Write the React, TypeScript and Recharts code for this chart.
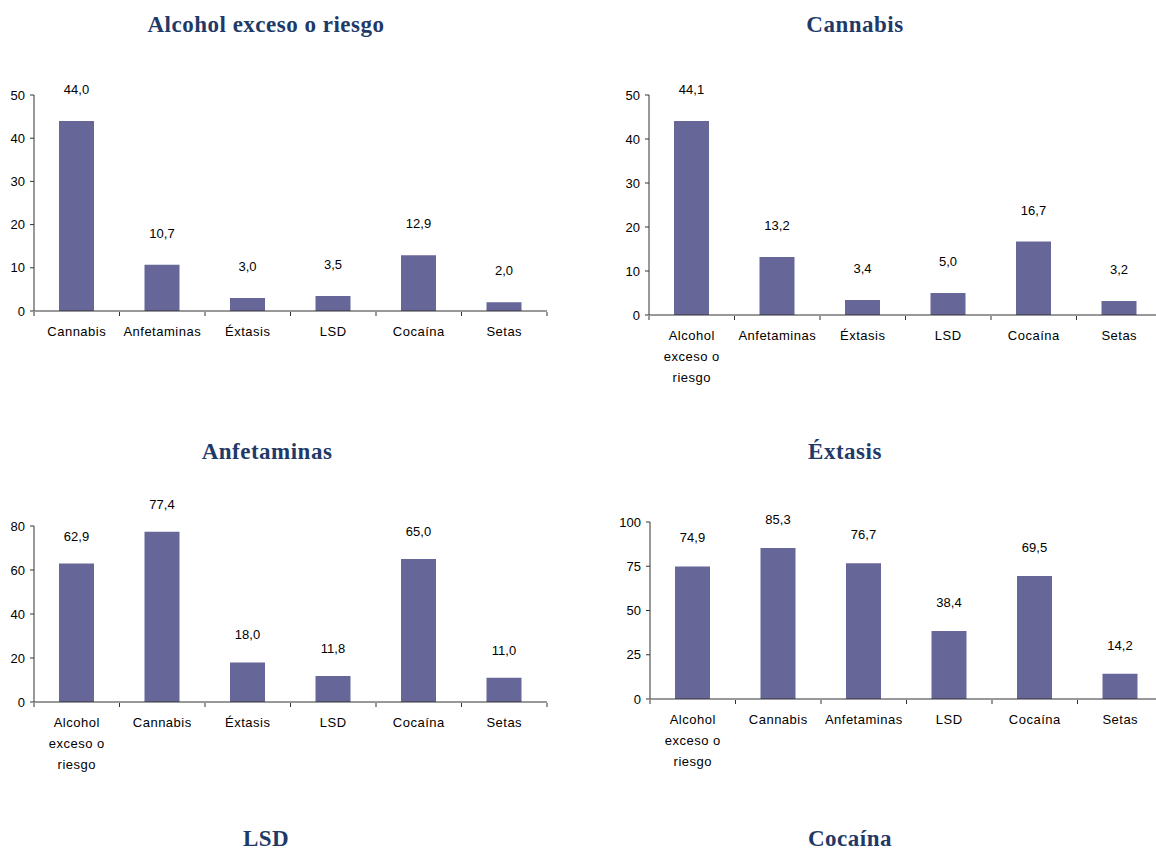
import { BarChart, Bar, XAxis, YAxis, LabelList } from 'recharts';

const BAR_FILL = '#666699';
const TITLE_COLOR = '#1F3A68';
const AXIS_COLOR = '#333333';
const SANS = '"Liberation Sans", Arial, sans-serif';
const SERIF = '"Liberation Serif", "Times New Roman", serif';

// Alcohol exceso o riesgo
const alcoholCats = ['Cannabis', 'Anfetaminas', 'Éxtasis', 'LSD', 'Cocaína', 'Setas'];
const alcoholVals = [44.0, 10.7, 3.0, 3.5, 12.9, 2.0];
const alcoholTicks = [0, 10, 20, 30, 40, 50];

// Cannabis
const cannabisCats = ['Alcohol exceso o riesgo', 'Anfetaminas', 'Éxtasis', 'LSD', 'Cocaína', 'Setas'];
const cannabisVals = [44.1, 13.2, 3.4, 5.0, 16.7, 3.2];
const cannabisTicks = [0, 10, 20, 30, 40, 50];

// Anfetaminas
const anfetCats = ['Alcohol exceso o riesgo', 'Cannabis', 'Éxtasis', 'LSD', 'Cocaína', 'Setas'];
const anfetVals = [62.9, 77.4, 18.0, 11.8, 65.0, 11.0];
const anfetTicks = [0, 20, 40, 60, 80];

// Éxtasis
const extasisCats = ['Alcohol exceso o riesgo', 'Cannabis', 'Anfetaminas', 'LSD', 'Cocaína', 'Setas'];
const extasisVals = [74.9, 85.3, 76.7, 38.4, 69.5, 14.2];
const extasisTicks = [0, 25, 50, 75, 100];

// long category names broken over lines like the original
const wrapped: Record<string, string[]> = {
  'Alcohol exceso o riesgo': ['Alcohol', 'exceso o', 'riesgo'],
};

const fmt = (v: any) => Number(v).toFixed(1).replace('.', ',');

function CatTick(props: any) {
  const { x, y, payload } = props;
  const lines = wrapped[payload.value] || [payload.value];
  return (
    <g transform={`translate(${x},${y})`}>
      <text textAnchor="middle" fontSize={13} fill="#000" letterSpacing={0.5} fontFamily={SANS}>
        {lines.map((l: string, i: number) => (
          <tspan key={i} x={0} y={25 + i * 21}>{l}</tspan>
        ))}
      </text>
    </g>
  );
}

const EmptyTick = () => <g />;

interface PanelProps {
  cats: string[];
  vals: number[];
  ticks: number[];
  left: number;
  top: number;
  bottom: number;
  right: number;
  labelOffset: number;
}

function Panel({ cats, vals, ticks, left, top, bottom, right, labelOffset }: PanelProps) {
  const data = cats.map((c, i) => ({ name: c, value: vals[i], idx: i + 0.5 }));
  const edges = [...cats.map((_, i) => i), cats.length];
  const yW = 40;
  const mt = 45;
  const mb = 80;
  const mr = 5;
  const w = yW + (right - left) + mr;
  // +2 for the two 1px bottom axes
  const h = mt + (bottom - top) + mb + 2;

  return (
    <div style={{ position: 'absolute', left: left - yW, top: top - mt }}>
      <BarChart
        width={w}
        height={h}
        data={data}
        margin={{ top: mt, right: mr, bottom: mb, left: 0 }}
        barSize={35}
      >
        <XAxis
          xAxisId="cat"
          dataKey="name"
          interval={0}
          height={1}
          stroke={AXIS_COLOR}
          tickLine={false}
          tickSize={0}
          tickMargin={0}
          tick={<CatTick />}
        />
        <XAxis
          xAxisId="edges"
          dataKey="idx"
          type="number"
          domain={[0, cats.length]}
          ticks={edges}
          interval={0}
          allowDataOverflow
          height={1}
          stroke={AXIS_COLOR}
          axisLine={false}
          tickSize={4}
          tick={<EmptyTick />}
        />
        <YAxis
          width={yW}
          domain={[0, ticks[ticks.length - 1]]}
          ticks={ticks}
          interval={0}
          tickSize={4}
          tickMargin={5}
          stroke={AXIS_COLOR}
          axisLine
          tick={{ fontSize: 13, fill: '#000', fontFamily: SANS }}
        />
        <Bar xAxisId="cat" dataKey="value" fill={BAR_FILL} isAnimationActive={false}>
          <LabelList
            dataKey="value"
            position="top"
            offset={labelOffset}
            formatter={fmt}
            style={{ fontSize: 13, fill: '#000', fontFamily: SANS }}
          />
        </Bar>
      </BarChart>
    </div>
  );
}

function Title({ text, cx, baseline }: { text: string; cx: number; baseline: number }) {
  return (
    <div
      style={{
        position: 'absolute',
        left: cx - 200,
        width: 400,
        top: baseline - 19.3,
        textAlign: 'center',
        fontFamily: SERIF,
        fontWeight: 'bold',
        fontSize: 23,
        lineHeight: '23px',
        letterSpacing: 0.5,
        color: TITLE_COLOR,
        whiteSpace: 'nowrap',
      }}
    >
      {text}
    </div>
  );
}

export default function App() {
  return (
    <div
      style={{
        position: 'absolute',
        left: 0,
        top: 0,
        width: 1156,
        height: 851,
        overflow: 'hidden',
        background: '#fff',
        fontFamily: SANS,
      }}
    >
      <Title text="Alcohol exceso o riesgo" cx={266} baseline={32} />
      <Title text="Cannabis" cx={855} baseline={32} />
      <Title text="Anfetaminas" cx={267} baseline={459} />
      <Title text="Éxtasis" cx={845} baseline={459} />
      <Title text="LSD" cx={266} baseline={846} />
      <Title text="Cocaína" cx={850} baseline={846} />

      <Panel cats={alcoholCats} vals={alcoholVals} ticks={alcoholTicks}
        left={34} top={95} bottom={311} right={547} labelOffset={27} />
      <Panel cats={cannabisCats} vals={cannabisVals} ticks={cannabisTicks}
        left={649} top={95} bottom={315} right={1162} labelOffset={27} />
      <Panel cats={anfetCats} vals={anfetVals} ticks={anfetTicks}
        left={34} top={526} bottom={702} right={547} labelOffset={23} />
      <Panel cats={extasisCats} vals={extasisVals} ticks={extasisTicks}
        left={650} top={522} bottom={699} right={1163} labelOffset={24} />
    </div>
  );
}
